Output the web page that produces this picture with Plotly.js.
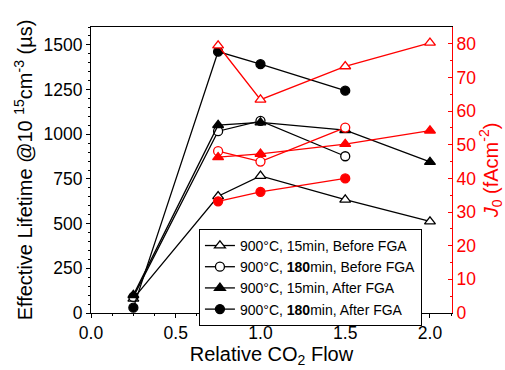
<!DOCTYPE html>
<html>
<head>
<meta charset="utf-8">
<script src="https://cdn.plot.ly/plotly-3.0.1.min.js"></script>
<style>html,body{margin:0;padding:0;background:#fff;}#chart{width:505px;height:370px;}</style>
</head>
<body>
<div id="chart"></div>
<script>
// Relative CO2 flow values
const flowAll = [0.25, 0.75, 1.0, 1.5, 2.0];
const flow3 = [0.25, 0.75, 1.0, 1.5];
const flowJ4 = [0.75, 1.0, 1.5, 2.0];
const flowJ3 = [0.75, 1.0, 1.5];

// Effective lifetime (µs), left axis
const tau15Before = [80, 653, 767, 634, 512];
const tau180Before = [90, 1017, 1075, 877];
const tau15After = [100, 1051, 1066, 1023, 845];
const tau180After = [30, 1462, 1392, 1244];

// J0 (fA/cm2), right axis
const j15Before = [79.5, 63.4, 73.3, 80.3];
const j180Before = [48.1, 45.0, 55.1];
const j15After = [46.3, 47.3, 50.2, 54.2];
const j180After = [33.2, 36.0, 40.0];

const names = [
  '900°C, 15min, Before FGA',
  '900°C, <b>180</b>min, Before FGA',
  '900°C, 15min, After FGA',
  '900°C, <b>180</b>min, After FGA'
];

const lw = 1.3;
function tr(x, y, color, symbol, open, name, axis, show) {
  return {
    x: x, y: y, type: 'scatter', mode: 'lines+markers',
    name: name, showlegend: show, yaxis: axis,
    line: {color: color, width: lw},
    marker: {
      symbol: symbol, size: symbol === 'circle' ? 9 : 9.5,
      color: open ? 'white' : color,
      line: {color: color, width: lw}
    }
  };
}

const data = [
  tr(flowJ4, j15Before, 'red', 'triangle-up', true, 'j1', 'y2', false),
  tr(flowJ3, j180Before, 'red', 'circle', true, 'j2', 'y2', false),
  tr(flowJ4, j15After, 'red', 'triangle-up', false, 'j3', 'y2', false),
  tr(flowJ3, j180After, 'red', 'circle', false, 'j4', 'y2', false),
  tr(flowAll, tau15Before, 'black', 'triangle-up', true, names[0], 'y', true),
  tr(flow3, tau180Before, 'black', 'circle', true, names[1], 'y', true),
  tr(flowAll, tau15After, 'black', 'triangle-up', false, names[2], 'y', true),
  tr(flow3, tau180After, 'black', 'circle', false, names[3], 'y', true)
];

const font = 'Arial, "Liberation Sans", sans-serif';
const layout = {
  width: 505, height: 370,
  margin: {l: 91, r: 53, t: 27, b: 57},
  paper_bgcolor: 'white', plot_bgcolor: 'white',
  font: {family: font, size: 17.5, color: 'black'},
  showlegend: true,
  legend: {
    x: 0.299, y: 0.294, xanchor: 'left', yanchor: 'top',
    bgcolor: 'white', bordercolor: 'black', borderwidth: 1,
    font: {family: font, size: 14, color: 'black'},
    tracegroupgap: 0, traceorder: 'normal'
  },
  xaxis: {
    range: [0, 2.13], tickvals: [0, 0.5, 1.0, 1.5, 2.0],
    ticktext: ['0.0', '0.5', '1.0', '1.5', '2.0'],
    showline: true, linecolor: 'black', linewidth: 1, mirror: true,
    ticks: 'outside', ticklen: 4, tickcolor: 'black',
    minor: {dtick: 0.125, ticks: 'outside', ticklen: 2, tickcolor: 'black'},
    showgrid: false, zeroline: false,
    tickfont: {size: 17.5},
    title: {text: 'Relative CO<sub>2</sub> Flow', font: {size: 20}, standoff: 4}
  },
  yaxis: {
    range: [0, 1600], tickvals: [0, 250, 500, 750, 1000, 1250, 1500],
    showline: true, linecolor: 'black', linewidth: 1,
    ticks: 'outside', ticklen: 4, tickcolor: 'black',
    minor: {dtick: 50, ticks: 'outside', ticklen: 2, tickcolor: 'black'},
    showgrid: false, zeroline: false,
    tickfont: {size: 17.5},
    title: {text: 'Effective Lifetime @10 <sup>15</sup>cm<sup>-3</sup> (µs)', font: {size: 20}, standoff: 5}
  },
  yaxis2: {
    overlaying: 'y', side: 'right', range: [0, 85],
    tickvals: [0, 10, 20, 30, 40, 50, 60, 70, 80],
    showline: true, linecolor: 'red', linewidth: 1,
    ticks: 'inside', ticklen: 4, tickcolor: 'red',
    minor: {dtick: 5, ticks: 'inside', ticklen: 2, tickcolor: 'red'},
    showgrid: false, zeroline: false,
    tickfont: {size: 17.5, color: 'red'},
    title: {text: '<i>J</i><sub>0</sub> (fAcm<sup>-2</sup>)', font: {size: 20, color: 'red'}, standoff: 6}
  }
};

Plotly.newPlot('chart', data, layout, {displayModeBar: false, staticPlot: true});
</script>
</body>
</html>
